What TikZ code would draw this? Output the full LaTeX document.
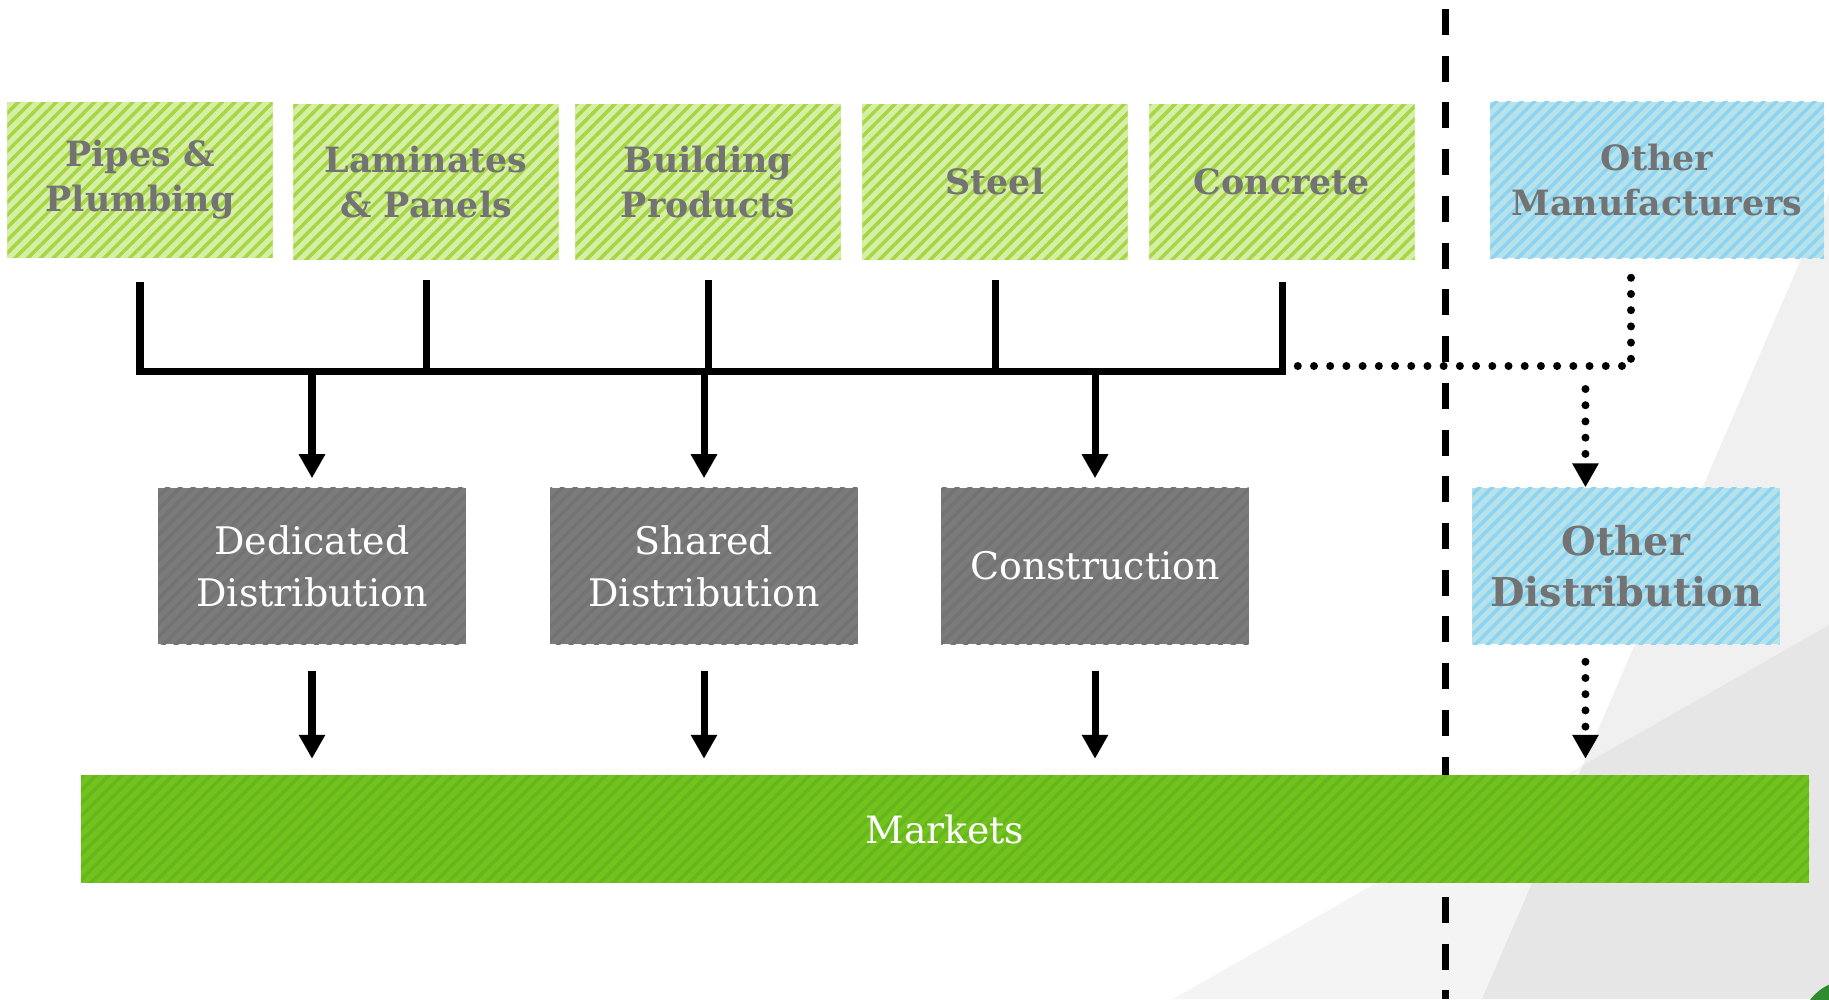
\documentclass[tikz,border=0pt]{standalone}
\usepackage{fontspec}
\setmainfont{DejaVu Serif}
\usetikzlibrary{arrows.meta,patterns.meta}
\definecolor{srcbase}{HTML}{D6EFA4}
\definecolor{srcline}{HTML}{A5D646}
\definecolor{othbase}{HTML}{B8E2EA}
\definecolor{othline}{HTML}{8DD3F2}
\definecolor{chanbase}{HTML}{7B7B7B}
\definecolor{chanline}{HTML}{737373}
\definecolor{mktbase}{HTML}{74C21C}
\definecolor{mktline}{HTML}{64B81E}
\definecolor{txtgray}{HTML}{737373}
\definecolor{logogreen}{HTML}{2E8B2E}
\tikzset{
  hatch/.style={postaction={pattern={Lines[angle=45,distance=0.09cm,line width=0.035cm]},pattern color=#1}},
  box/.style={align=center, inner sep=0pt},
  src/.style={box, fill=srcbase, hatch=srcline, minimum width=2.65cm, minimum height=1.55cm,
    text=txtgray, font=\bfseries\fontsize{9.9}{12.8}\selectfont},
  other/.style={box, fill=othbase, hatch=othline, minimum height=1.56cm,
    text=txtgray, font=\bfseries\fontsize{9.9}{12.8}\selectfont},
  chan/.style={box, fill=chanbase, hatch=chanline, minimum width=3.07cm, minimum height=1.56cm,
    text=white, font=\fontsize{10.8}{14.7}\selectfont},
  conn/.style={line width=0.07cm},
  arr/.style={conn, -{Triangle[width=0.25cm,length=0.24cm]}},
  dots/.style={line width=0.08cm, line cap=round, dash pattern=on 0pt off 0.162cm},
  dotarr/.style={dots, -{Triangle[width=0.25cm,length=0.24cm]}}
}
\begin{document}
\begin{tikzpicture}[x=0.01cm,y=-0.01cm]
  \useasboundingbox (0,0) rectangle (1829,999);
  % backdrop
  \fill[black, fill opacity=0.06] (1829,194) -- (1482,999) -- (1829,999) -- cycle;
  \fill[black, fill opacity=0.045] (1829,625) -- (1173,999) -- (1829,999) -- cycle;
  \begin{scope}
    \clip (0,0) rectangle (1829,999);
    \fill[logogreen] (1850,1030) circle (50);
  \end{scope}
  \draw[line width=0.07cm, dash pattern=on 0.26cm off 0.207cm] (1445,9) -- (1445,999);

  \draw
    (140,180) node[src] (pipes) {Pipes \&\\Plumbing}
    (426,182) node[src] (lam) {Laminates\\\& Panels}
    (708,182) node[src] (bld) {Building\\Products}
    (995,182) node[src] (steel) {Steel}
    (1282,182) node[src] (conc) {Concrete}
    (1657,180) node[other, minimum width=3.34cm] (othman) {Other\\Manufacturers};
  \draw
    (312,566) node[chan] (ded) {Dedicated\\Distribution}
    (704,566) node[chan] (shr) {Shared\\Distribution}
    (1095,566) node[chan] (cons) {Construction}
    (1626,566) node[other, minimum width=3.07cm, font=\bfseries\fontsize{11.3}{14.5}\selectfont] (othdist) {Other\\Distribution};
  \coordinate (bus) at (0,371);
  \coordinate (dotbus) at (0,366);

  \begin{scope}[-]
    \draw[conn, shorten <=0.24cm, shorten >=0.22cm] (pipes.south) -- (pipes.south |- bus)
      -- (conc.south |- bus) -- (conc.south);
    \foreach \n in {lam,bld,steel}
      \draw[conn, shorten <=0.2cm] (\n.south) -- (\n.south |- bus);
    \draw[dots, shorten <=0.19cm, shorten >=0.14cm] ([xshift=-0.26cm]othman.south) |- (conc.south |- dotbus);
  \end{scope}

  \foreach \n in {ded,shr,cons} {
    \draw[arr, shorten >=0.09cm] (\n.north |- bus) -- (\n.north);
  }

  \draw (945,829) node[box, fill=mktbase, hatch=mktline, minimum width=17.27cm, minimum height=1.07cm,
    text=white, font=\fontsize{10.7}{14.7}\selectfont] (mkt) {Markets};

  \foreach \n in {ded,shr,cons} {
    \draw[arr, shorten <=0.26cm, shorten >=0.16cm] (\n.south) -- (\n.south |- mkt.north);
  }
  \draw[dotarr, shorten <=0.23cm] ([xshift=-0.405cm]othdist.north |- dotbus) -- ([xshift=-0.405cm]othdist.north);
  \draw[dotarr, shorten <=0.17cm, shorten >=0.16cm] ([xshift=-0.405cm]othdist.south) -- ([xshift=-0.405cm]othdist.south |- mkt.north);
\end{tikzpicture}
\end{document}
